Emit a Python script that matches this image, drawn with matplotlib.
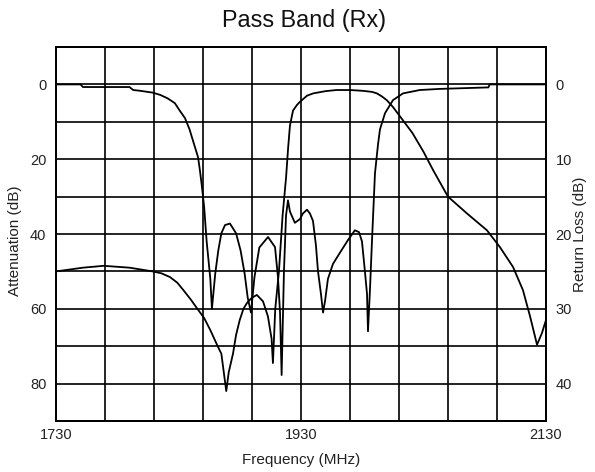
import matplotlib
matplotlib.use("Agg")
import matplotlib.pyplot as plt

plt.rcParams['font.family'] = ['Liberation Sans', 'DejaVu Sans']

# Insertion loss / attenuation (left axis, dB)
freq_att = [1730, 1741, 1752, 1769, 1790, 1809, 1816, 1823, 1829, 1834, 1840,
            1845, 1851, 1856, 1862, 1865, 1867, 1869, 1871, 1874.5, 1877, 1880,
            1883, 1886, 1890, 1894, 1899, 1903, 1906, 1907.1, 1909, 1912, 1915,
            1917.8, 1919.5, 1921, 1923.5, 1926.7, 1929, 1935, 1940, 1950, 1959,
            1970, 1980, 1988, 1992, 1996, 2000, 2005, 2013, 2021, 2030, 2038,
            2050, 2065.5, 2081.8, 2092.4, 2103.1, 2111.2, 2117, 2122.7, 2126.7,
            2130]
attenuation = [50, 49.5, 49, 48.5, 49, 50, 50.5, 51.5, 53, 55, 57.5,
               59.8, 62.5, 65.7, 70, 72, 77, 82, 77, 72, 67, 63,
               60, 58.4, 57, 56.3, 58, 62, 68, 74.5, 60, 50, 35,
               25, 17, 11, 7, 5.5, 4.7, 3, 2.4, 1.8, 1.5,
               1.5, 1.7, 2, 2.4, 3.2, 4.2, 6, 9.5, 13, 18, 23,
               30, 34.5, 39, 43.5, 48.8, 55, 62, 69.6, 66.5,
               63]

# Return loss (right axis, dB)
freq_rl = [1730, 1750, 1752, 1790, 1793, 1798.6, 1809, 1815, 1821, 1827, 1831,
           1835.3, 1839, 1841.8, 1846, 1847.5, 1849.2, 1851, 1853, 1856, 1857.3,
           1860, 1862.5, 1865, 1868, 1872, 1877, 1880.7, 1884, 1886.5, 1889.2,
           1892, 1896, 1903.1, 1908.8, 1911.2, 1912.9, 1914.2, 1916.1, 1917.8,
           1919.4, 1921, 1925, 1929.2, 1931.6, 1934.9, 1937.3, 1939.8, 1942.2,
           1943.9, 1946.3, 1948, 1949.6, 1952, 1956.1, 1961.8, 1968.4, 1974,
           1977.4, 1979.8, 1982.2, 1983.9, 1984.7, 1986.3, 1988, 1990.4, 1992.9,
           1994.5, 1998.6, 2005.1, 2013.3, 2027, 2043.5, 2083, 2084, 2130]
return_loss = [0, 0, 0.35, 0.35, 0.75, 0.85, 1.1, 1.4, 1.85, 2.5, 3.5,
               4.5, 6, 7.5, 9.75, 11.5, 13.75, 16.5, 21, 26, 30,
               25.3, 22.2, 19.9, 18.8, 18.6, 19.9, 22.2, 25.3, 28.5, 30.5,
               25.8, 21.8, 20.4, 21.75, 25.75, 30.5, 38.85, 25, 17.5,
               15.5, 17, 18.5, 18, 17.25, 16.75, 17.25, 18.25, 21.5,
               25, 28, 30.5, 29, 26, 24, 22.5, 20.8, 19.5,
               19.75, 21, 25, 28, 33, 27.5, 20.8, 11.9, 8,
               6, 3.85, 2.1, 1.2, 0.75, 0.6, 0.4, 0, 0]

x_grid = list(range(1730, 2131, 40))
x_labels = {1730: "1730", 1930: "1930", 2130: "2130"}
att_ticks = list(range(-10, 91, 10))
att_labels = {0: "0", 20: "20", 40: "40", 60: "60", 80: "80"}
rl_ticks = [0, 10, 20, 30, 40]

fig = plt.figure(figsize=(5.95, 4.72), dpi=100)
ax = fig.add_axes([0.0941, 0.108, 0.8235, 0.7924])
ax2 = ax.twinx()

ax.set_xlim(1730, 2130)
ax.set_ylim(90, -10)
ax2.set_ylim(45, -5)

ax.set_xticks(x_grid)
ax.set_xticklabels([x_labels.get(v, "") for v in x_grid])
ax.set_yticks(att_ticks)
ax.set_yticklabels([att_labels.get(v, "") for v in att_ticks])
ax2.set_yticks(rl_ticks)
ax2.set_yticklabels([str(v) for v in rl_ticks])

ax.grid(True, color='black', linewidth=1.2)
ax.set_axisbelow(True)
for a in (ax, ax2):
    for s in a.spines.values():
        s.set_linewidth(1.3)
        s.set_color('black')

txt_col = '#222222'
ax.tick_params(axis='both', length=0, labelsize=10.5, colors=txt_col, pad=7)
ax.tick_params(axis='x', pad=5)
ax2.tick_params(axis='y', length=0, labelsize=10.5, colors=txt_col, pad=7)

ax.plot(freq_att, attenuation, color='black', linewidth=1.3)
ax2.plot(freq_rl, return_loss, color='black', linewidth=1.3)

fig.text(304 / 595, 1 - 21 / 472, "Pass Band (Rx)", fontsize=16.8,
         color='#111111', ha='center', va='center')
fig.text(301 / 595, 1 - 460 / 472, "Frequency (MHz)", fontsize=11,
         color=txt_col, ha='center', va='center')
fig.text(15 / 595, 1 - 241 / 472, "Attenuation (dB)", fontsize=11,
         color=txt_col, ha='center', va='center', rotation=90)
fig.text(580 / 595, 1 - 234 / 472, "Return Loss (dB)", fontsize=11,
         color=txt_col, ha='center', va='center', rotation=90)

fig.savefig("out.png", dpi=100)
